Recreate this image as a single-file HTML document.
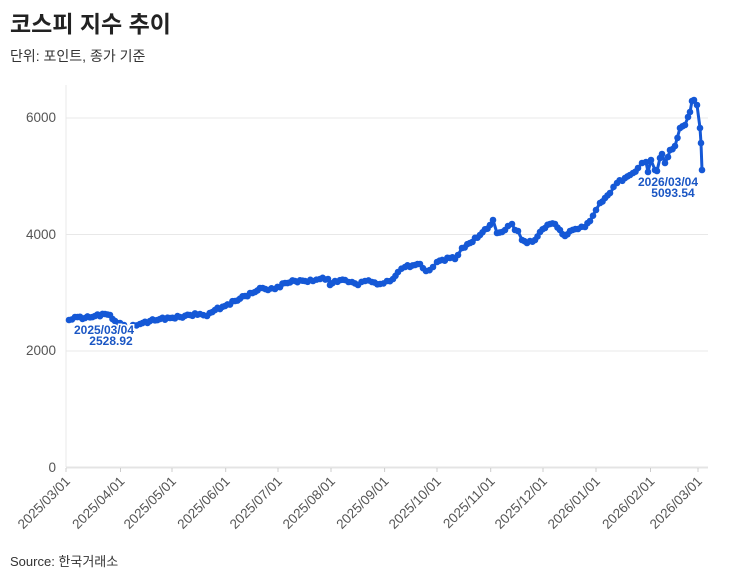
<!DOCTYPE html>
<html><head><meta charset="utf-8"><style>
body{margin:0;background:#fff;width:730px;height:579px;overflow:hidden;font-family:"Liberation Sans","Noto Sans CJK KR",sans-serif}
</style></head><body>
<svg id="s" width="730" height="579" xmlns="http://www.w3.org/2000/svg" style="position:absolute;left:0;top:0;font-family:'Liberation Sans','Noto Sans CJK KR',sans-serif">
<text x="10" y="32" font-size="23" font-weight="bold" fill="#222">코스피 지수 추이</text>
<text x="10" y="61" font-size="14" fill="#333">단위: 포인트, 종가 기준</text>
<g stroke="#e8e8e8" stroke-width="1">
<line x1="66" y1="118" x2="708" y2="118"/><line x1="66" y1="234.5" x2="708" y2="234.5"/><line x1="66" y1="351" x2="708" y2="351"/>
<line x1="66" y1="85" x2="66" y2="467"/>
</g>
<line x1="66" y1="467.5" x2="708" y2="467.5" stroke="#e4e4e4" stroke-width="2"/>
<g font-size="13.5" fill="#555" text-anchor="end">
<text x="56" y="122">6000</text><text x="56" y="239">4000</text><text x="56" y="355">2000</text><text x="56" y="472">0</text>
</g>
<g id="xt" font-size="13.5" fill="#555" text-anchor="end"></g>
<polyline id="ln" fill="none" stroke="#1558d6" stroke-width="3" stroke-linejoin="round"/>
<g id="dots" fill="#1558d6"></g>
<g font-size="12" fill="#1a56c4" text-anchor="middle" stroke="#fff" stroke-width="3" paint-order="stroke" font-weight="bold">
<text x="104" y="334">2025/03/04</text><text x="111" y="345">2528.92</text>
<text x="668" y="186">2026/03/04</text><text x="673" y="197">5093.54</text>
</g>
<text x="10" y="566" font-size="13" fill="#333">Source: 한국거래소</text>
</svg>
<script>
var ns="http://www.w3.org/2000/svg",s=document.getElementById('s');
var ticks=[66,120.5,172,225.7,278,331,384.6,437,490.7,543,596,650.5,698];
var labs=["2025/03/01","2025/04/01","2025/05/01","2025/06/01","2025/07/01","2025/08/01","2025/09/01","2025/10/01","2025/11/01","2025/12/01","2026/01/01","2026/02/01","2026/03/01"];
var xt=document.getElementById('xt');
ticks.forEach(function(x,i){var l=document.createElementNS(ns,'line');l.setAttribute('x1',x);l.setAttribute('x2',x);l.setAttribute('y1',468);l.setAttribute('y2',472);l.setAttribute('stroke','#ccc');s.insertBefore(l,xt);
var t=document.createElementNS(ns,'text');t.setAttribute('transform','translate('+(x+5)+',482) rotate(-45)');t.textContent=labs[i];xt.appendChild(t);});
var seg1=[[69,320],[75,317],[85,318],[95,316],[105,314],[110,315],[115,321],[120,323],[124,325]];
var seg2=[[133,325],[140,324],[150,321],[160,319],[170,318],[180,317],[190,315],[200,314],[207,316],[215,310],[225,306],[235,301],[245,296],[255,292],[260,288],[268,290],[275,289],[285,283],[295,281],[305,281],[313,281],[320,279],[328,279],[330,285],[335,281],[345,280],[352,282],[358,285],[365,281],[372,282],[380,284],[387,281],[393,279],[398,272],[405,267],[415,265],[420,264],[426,271],[433,267],[437,262],[450,258],[455,259],[458,255],[462,248],[470,243],[480,235],[490,225],[493,220],[497,233],[502,232],[508,226],[512,224],[515,230],[518,231],[522,240],[527,243],[530,241],[535,240],[540,232],[545,228],[550,224],[555,224],[560,230],[565,236],[570,231],[578,229],[585,227],[590,221],[596,210],[600,203],[605,198],[610,193],[617,183],[625,178],[630,175],[633,173],[638,168],[642,163],[646,162],[648,172],[651,160],[655,170],[657,171],[660,158],[662,154],[665,163],[668,157],[670,150],[675,146],[680,128],[685,125],[688,117],[690,112],[692,101],[694,100],[697,105],[700,128],[701,143],[702,170]];
var pts=[],dots=document.getElementById('dots');
function add(seg){seg.forEach(function(p,i){pts.push(p);if(i<seg.length-1){var q=seg[i+1],n=Math.max(1,Math.floor((q[0]-p[0])/2.5));for(var k=1;k<n;k++){var f=k/n;dots.appendChild(mk(p[0]+(q[0]-p[0])*f,p[1]+(q[1]-p[1])*f+Math.sin(k*2.3+i)*1.2));}}dots.appendChild(mk(p[0],p[1]));});}
function mk(x,y){var c=document.createElementNS(ns,'circle');c.setAttribute('cx',x);c.setAttribute('cy',y);c.setAttribute('r',3.3);return c;}
add(seg1);add(seg2);
document.getElementById('ln').setAttribute('points',seg2.map(function(p){return p.join(',')}).join(' '));
var l1=document.createElementNS(ns,'polyline');l1.setAttribute('points',seg1.map(function(p){return p.join(',')}).join(' '));l1.setAttribute('fill','none');l1.setAttribute('stroke','#1558d6');l1.setAttribute('stroke-width','3');s.insertBefore(l1,dots);
</script>
</body></html>
